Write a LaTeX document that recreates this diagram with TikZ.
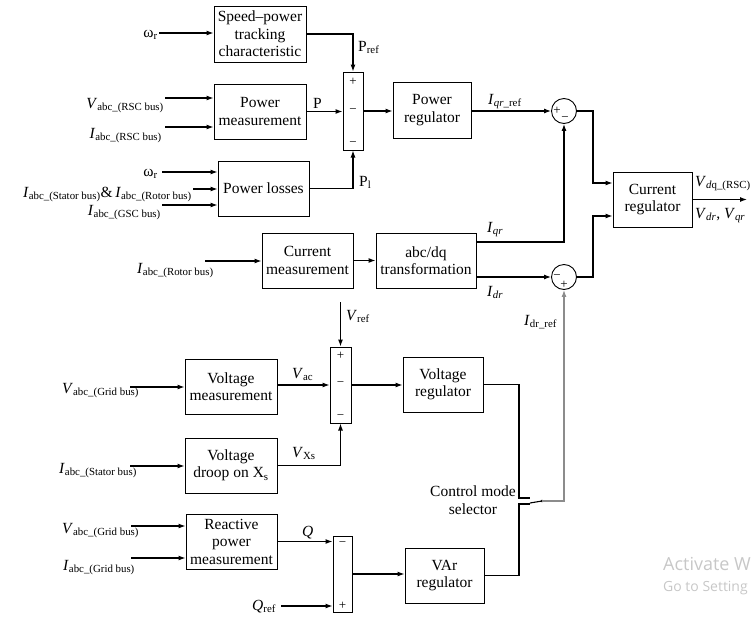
\documentclass[tikz,border=0pt]{standalone}
\usepackage{fontspec}
\setmainfont{Liberation Serif}
\newfontfamily\wmfont{Open Sans}
\usetikzlibrary{arrows.meta}
\newcommand\mysub[1]{\textsubscript{#1}}
\begin{document}
\begin{tikzpicture}[x=1pt,y=-1pt,
  every node/.style={font=\fontsize{15.5}{17.5}\selectfont},
  blk/.style={draw, line width=1pt, align=center, inner sep=0.5pt, minimum height=55},
  bar/.style={draw, line width=1pt, inner sep=0},
  sj/.style={draw, circle, line width=0.9pt, minimum size=25, inner sep=0},
  arr/.style={line width=1.1pt, -{Latex[length=7pt,width=5pt]}},
  ln/.style={line width=1.1pt},
  sg/.style={font=\fontsize{13}{14}\selectfont, inner sep=0},
  lb/.style={inner sep=0},
  wm/.style={inner sep=0, text=black!22, anchor=base west}
]
\useasboundingbox (0,0) rectangle (752,621);

% ---------- blocks ----------
\node[blk, minimum width=92, minimum height=56] (sp) at (260,34) {Speed–power\\tracking\\characteristic};
\node[blk, minimum width=92] (pm) at (260,111.5) {Power\\measurement};
\node[blk, minimum width=91] (pl) at (263.5,188.5) {Power losses};
\node[bar, minimum width=20, minimum height=78] (s1) at (353,111) {};
\node[blk, minimum width=78, minimum height=56] (pr) at (432,110) {Power\\regulator};
\node[sj] (c1) at (564,111) {};
\node[sj] (c2) at (564,277) {};
\node[blk, minimum width=79] (cr) at (652.5,199.5) {Current\\regulator};
\node[blk, minimum width=91] (cm) at (307.5,260.5) {Current\\measurement};
\node[blk, minimum width=100] (ad) at (426,260.5) {abc/dq\\transformation};
\node[bar, minimum width=21, minimum height=76] (s2) at (340.5,385) {};
\node[blk, minimum width=92] (vm) at (231,386.5) {Voltage\\measurement};
\node[blk, minimum width=92] (vd) at (231,465.5) {Voltage\\droop on X\mysub{s}};
\node[blk, minimum width=80] (vr) at (443,384.5) {Voltage\\regulator};
\node[blk, minimum width=91] (rp) at (231.5,541.5) {Reactive\\power\\measurement};
\node[bar, minimum width=19, minimum height=76] (s3) at (342.5,574) {};
\node[blk, minimum width=79] (var) at (444.5,575.5) {VAr\\regulator};

% ---------- signs ----------
\node[sg] at (353,82) {+};
\node[sg] at (353,111) {−};
\node[sg] at (353,144) {−};
\node[sg] at (557,111) {+};
\node[sg] at (565,119) {−};
\node[sg] at (557,277) {−};
\node[sg] at (564,285) {+};
\node[sg] at (340.5,356) {+};
\node[sg] at (340.5,384) {−};
\node[sg] at (340.5,417) {−};
\node[sg] at (342.5,544) {−};
\node[sg] at (342.5,606) {+};

% ---------- top inputs ----------
\coordinate (iw1) at (159,33);
\draw[arr] (iw1) -- (iw1 -| sp.west);
\node[lb, anchor=base east] (lw1) at (158,37) {ω\mysub{r}};
\coordinate (iv1) at (165,98);
\draw[arr] (iv1) -- (iv1 -| pm.west);
\node[lb, anchor=base east] (lv1) at (164,108) {\textit{V}\mysub{abc\_(RSC bus)}};
\coordinate (ii1) at (165,127);
\draw[arr] (ii1) -- (ii1 -| pm.west);
\node[lb, anchor=base east] (li1) at (162,138) {\textit{I}\mysub{abc\_(RSC bus)}};
\coordinate (iw2) at (162,172);
\draw[arr] (iw2) -- (iw2 -| pl.west);
\node[lb, anchor=base east] (lw2) at (158,176) {ω\mysub{r}};
\coordinate (ii2) at (193,189);
\draw[arr] (ii2) -- (ii2 -| pl.west);
\node[lb, anchor=base east] (li2) at (192,197) {\textit{I}\mysub{abc\_(Stator bus)}\&\,\textit{I}\mysub{abc\_(Rotor bus)}};
\coordinate (ii3) at (162,205);
\draw[arr] (ii3) -- (ii3 -| pl.west);
\node[lb, anchor=base east] (li3) at (161,215) {\textit{I}\mysub{abc\_(GSC bus)}};

% ---------- power loop ----------
\draw[arr] (sp.east) -| (s1.north);
\node[lb, anchor=base west] (lpref) at (358,51) {P\mysub{ref}};
\draw[arr] (pm.east) -- (pm.east -| s1.west);
\node[lb, anchor=base west] (lp) at (313,108) {P};
\draw[arr] (pl.east) -| (s1.south);
\node[lb, anchor=base west] (lpl) at (359,186) {P\mysub{l}};
\draw[arr] (s1.east) -- (s1.east -| pr.west);
\draw[arr] (c1.west -| pr.east) -- (c1.west);
\node[lb, anchor=base west] (liqref) at (488,104) {\textit{I}\textsubscript{\textit{qr}\_ref}};

% ---------- current loop ----------
\coordinate (irr) at (205,261);
\draw[arr] (irr) -- (irr -| cm.west);
\node[lb, anchor=base west] (lir) at (137,273) {\textit{I}\mysub{abc\_(Rotor bus)}};
\draw[arr] (cm.east) -- (ad.west);
\draw[arr] ([yshift=18.5pt]ad.east) -| (c1.south);
\node[lb, anchor=base west] (liq) at (487,232) {\textit{I}\textsubscript{\textit{qr}}};
\draw[arr] ([yshift=-16.5pt]ad.east) -- (c2.west);
\node[lb, anchor=base west] (lid) at (487,296) {\textit{I}\textsubscript{\textit{dr}}};
\draw[arr] (c1.east) -- ++(16,0) |- ([yshift=16.5pt]cr.west);
\draw[arr] (c2.east) -- ++(16,0) |- ([yshift=-16.5pt]cr.west);
\coordinate (out) at (747,199.5);
\draw[arr] (cr.east) -- (out);
\node[lb, anchor=base west] (lvdq) at (695,186) {\textit{V}\textsubscript{\textit{d}q\_(RSC)}};
\node[lb, anchor=base west] (lvdr) at (695,218) {\textit{V}\textsubscript{\textit{dr}}, \textit{V}\textsubscript{\textit{qr}}};

% ---------- voltage loop ----------
\coordinate (vref) at (340.5,302);
\draw[arr] (vref) -- (s2.north);
\node[lb, anchor=base west] (lvref) at (346,320) {\textit{V}\mysub{ref}};
\draw[arr] (s2.west -| vm.east) -- (s2.west);
\node[lb, anchor=base west] (lvac) at (292,378) {\textit{V}\mysub{ac}};
\draw[arr] (vd.east) -| (s2.south);
\node[lb, anchor=base west] (lvxs) at (292,457) {\textit{V}\mysub{Xs}};
\coordinate (ivg) at (130,387);
\draw[arr] (ivg) -- (ivg -| vm.west);
\node[lb, anchor=base west] (lvg) at (62,393) {\textit{V}\mysub{abc\_(Grid bus)}};
\coordinate (ivs) at (130,466);
\draw[arr] (ivs) -- (ivs -| vd.west);
\node[lb, anchor=base west] (lis) at (59,473) {\textit{I}\mysub{abc\_(Stator bus)}};
\draw[arr] (s2.east) -- (s2.east -| vr.west);

% ---------- reactive loop ----------
\coordinate (iv3) at (131,526);
\draw[arr] (iv3) -- (iv3 -| rp.west);
\node[lb, anchor=base west] (lv3) at (62,533) {\textit{V}\mysub{abc\_(Grid bus)}};
\coordinate (ii4) at (131,558);
\draw[arr] (ii4) -- (ii4 -| rp.west);
\node[lb, anchor=base west] (li4) at (63,570) {\textit{I}\mysub{abc\_(Grid bus)}};
\draw[arr] (rp.east) -- (rp.east -| s3.west);
\node[lb, anchor=base west] (lq) at (302,536) {\textit{Q}};
\coordinate (qref) at (281,606);
\draw[arr] (qref) -- (qref -| s3.west);
\node[lb, anchor=base west] (lqref) at (252,610) {\textit{Q}\mysub{ref}};
\draw[arr] (s3.east) -- (s3.east -| var.west);

% ---------- control mode selector ----------
\coordinate (swa) at (530,498);
\coordinate (swb) at (530,504);
\coordinate (swp) at (542,501);
\draw[ln] (vr.east) -| ([xshift=-11pt]swa) -- (swa);
\draw[ln] (var.east) -| ([xshift=-11pt]swb) -- (swb);
\draw[ln] ([yshift=1pt]swb) -- (swp);
\fill (swp) circle (1.3);
\draw[arr, draw=black!45] (swp) -| (c2.south);
\node[lb, anchor=base west] (lidref) at (524,325) {\textit{I}\mysub{dr\_ref}};
\node[align=center, inner sep=0] (cms) at (473,500) {Control mode\\selector};

% ---------- screen watermark (as cut in the reference) ----------
\node[wm, font=\wmfont\fontsize{18}{18}\selectfont] (wm1) at (663,570) {Activate W};
\node[wm, font=\wmfont\fontsize{14}{15}\selectfont] (wm2) at (663,591) {Go to Setting};
\end{tikzpicture}
\end{document}
